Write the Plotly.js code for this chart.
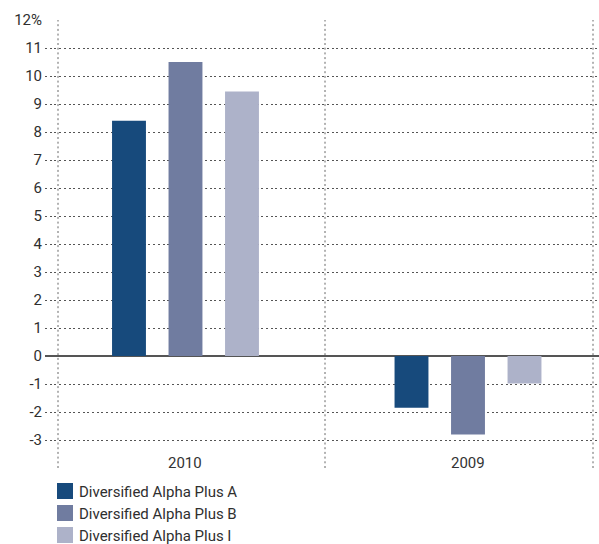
<!DOCTYPE html>
<html>
<head>
<meta charset="utf-8">
<script src="https://cdn.plot.ly/plotly-3.0.1.min.js"></script>
<style>
  html, body { margin: 0; padding: 0; background: #fff; }
  #chart { width: 599px; height: 544px; }
</style>
</head>
<body>
<div id="chart"></div>
<script>
// ---- data ----
const categories = ['2010', '2009'];
const seriesNames = ['Diversified Alpha Plus A', 'Diversified Alpha Plus B', 'Diversified Alpha Plus I'];
const seriesA = [8.4, -1.85];
const seriesB = [10.5, -2.8];
const seriesI = [9.45, -0.98];
const yTickVals = [-3, -2, -1, 0, 1, 2, 3, 4, 5, 6, 7, 8, 9, 10, 11, 12];
const yTickText = ['-3', '-2', '-1', '0', '1', '2', '3', '4', '5', '6', '7', '8', '9', '10', '11', '12%'];

const colors = ['#174a7c', '#707ca0', '#adb2c9'];
const allSeries = [seriesA, seriesB, seriesI];

// ---- layout helpers (pixel -> paper) ----
const L = 45, W = 554, T = 20, H = 448, FIG_H = 544;
const px = x => (x - L) / W;
const py = y => (T + H - y) / H;

const FONT = 'Roboto, Liberation Sans, Arial, sans-serif';
const FS = 15;

const traces = allSeries.map((vals, i) => ({
  type: 'bar',
  x: categories,
  y: vals,
  name: seriesNames[i],
  marker: { color: colors[i], line: { width: 0 } },
  hoverinfo: 'x+y+name'
}));

const shapes = [];
// vertical dotted guide lines
[58, 325, 593].forEach(x => {
  shapes.push({
    type: 'line', xref: 'paper', yref: 'paper',
    x0: px(x), x1: px(x), y0: 0, y1: 1,
    line: { color: '#666', width: 1, dash: '2px,2.7px' },
    layer: 'below'
  });
});

const annotations = [];
// category labels (category axis: position by index)
categories.forEach((c, i) => {
  annotations.push({
    xref: 'x', yref: 'paper', x: i, y: py(463),
    text: c, showarrow: false, xanchor: 'center', yanchor: 'middle',
    font: { family: FONT, size: FS, color: '#333' }
  });
});
// manual legend
seriesNames.forEach((n, i) => {
  const top = 483 + i * 22;
  shapes.push({
    type: 'rect', xref: 'paper', yref: 'paper',
    x0: px(57), x1: px(73), y0: py(top), y1: py(top + 16),
    fillcolor: colors[i], line: { width: 0 }
  });
  annotations.push({
    xref: 'paper', yref: 'paper', x: px(77), y: py(top + 8.5),
    text: n, showarrow: false, xanchor: 'left', yanchor: 'middle',
    font: { family: FONT, size: FS, color: '#2f2f2f' }
  });
});

const layout = {
  width: 599, height: FIG_H,
  margin: { l: L, r: 599 - L - W, t: T, b: FIG_H - T - H, pad: 0 },
  paper_bgcolor: '#fff', plot_bgcolor: '#fff',
  barmode: 'group',
  bargap: 0.4,
  bargroupgap: 0.4,
  showlegend: false,
  font: { family: FONT, size: FS, color: '#333' },
  xaxis: {
    type: 'category',
    range: [-0.4973, 1.4637],
    showticklabels: false,
    showgrid: false, zeroline: false, showline: false, ticks: ''
  },
  yaxis: {
    range: [-4, 12],
    tickvals: yTickVals, ticktext: yTickText,
    showgrid: true, gridcolor: '#555', gridwidth: 1, griddash: '2px,2.7px',
    zeroline: true, zerolinecolor: '#555', zerolinewidth: 1.5,
    showline: false, ticks: '',
    tickfont: { family: FONT, size: FS, color: '#2f2f2f' },
    ticklabelstandoff: 2
  },
  shapes: shapes,
  annotations: annotations
};

Plotly.newPlot('chart', traces, layout, { displayModeBar: false, staticPlot: true });
</script>
</body>
</html>
